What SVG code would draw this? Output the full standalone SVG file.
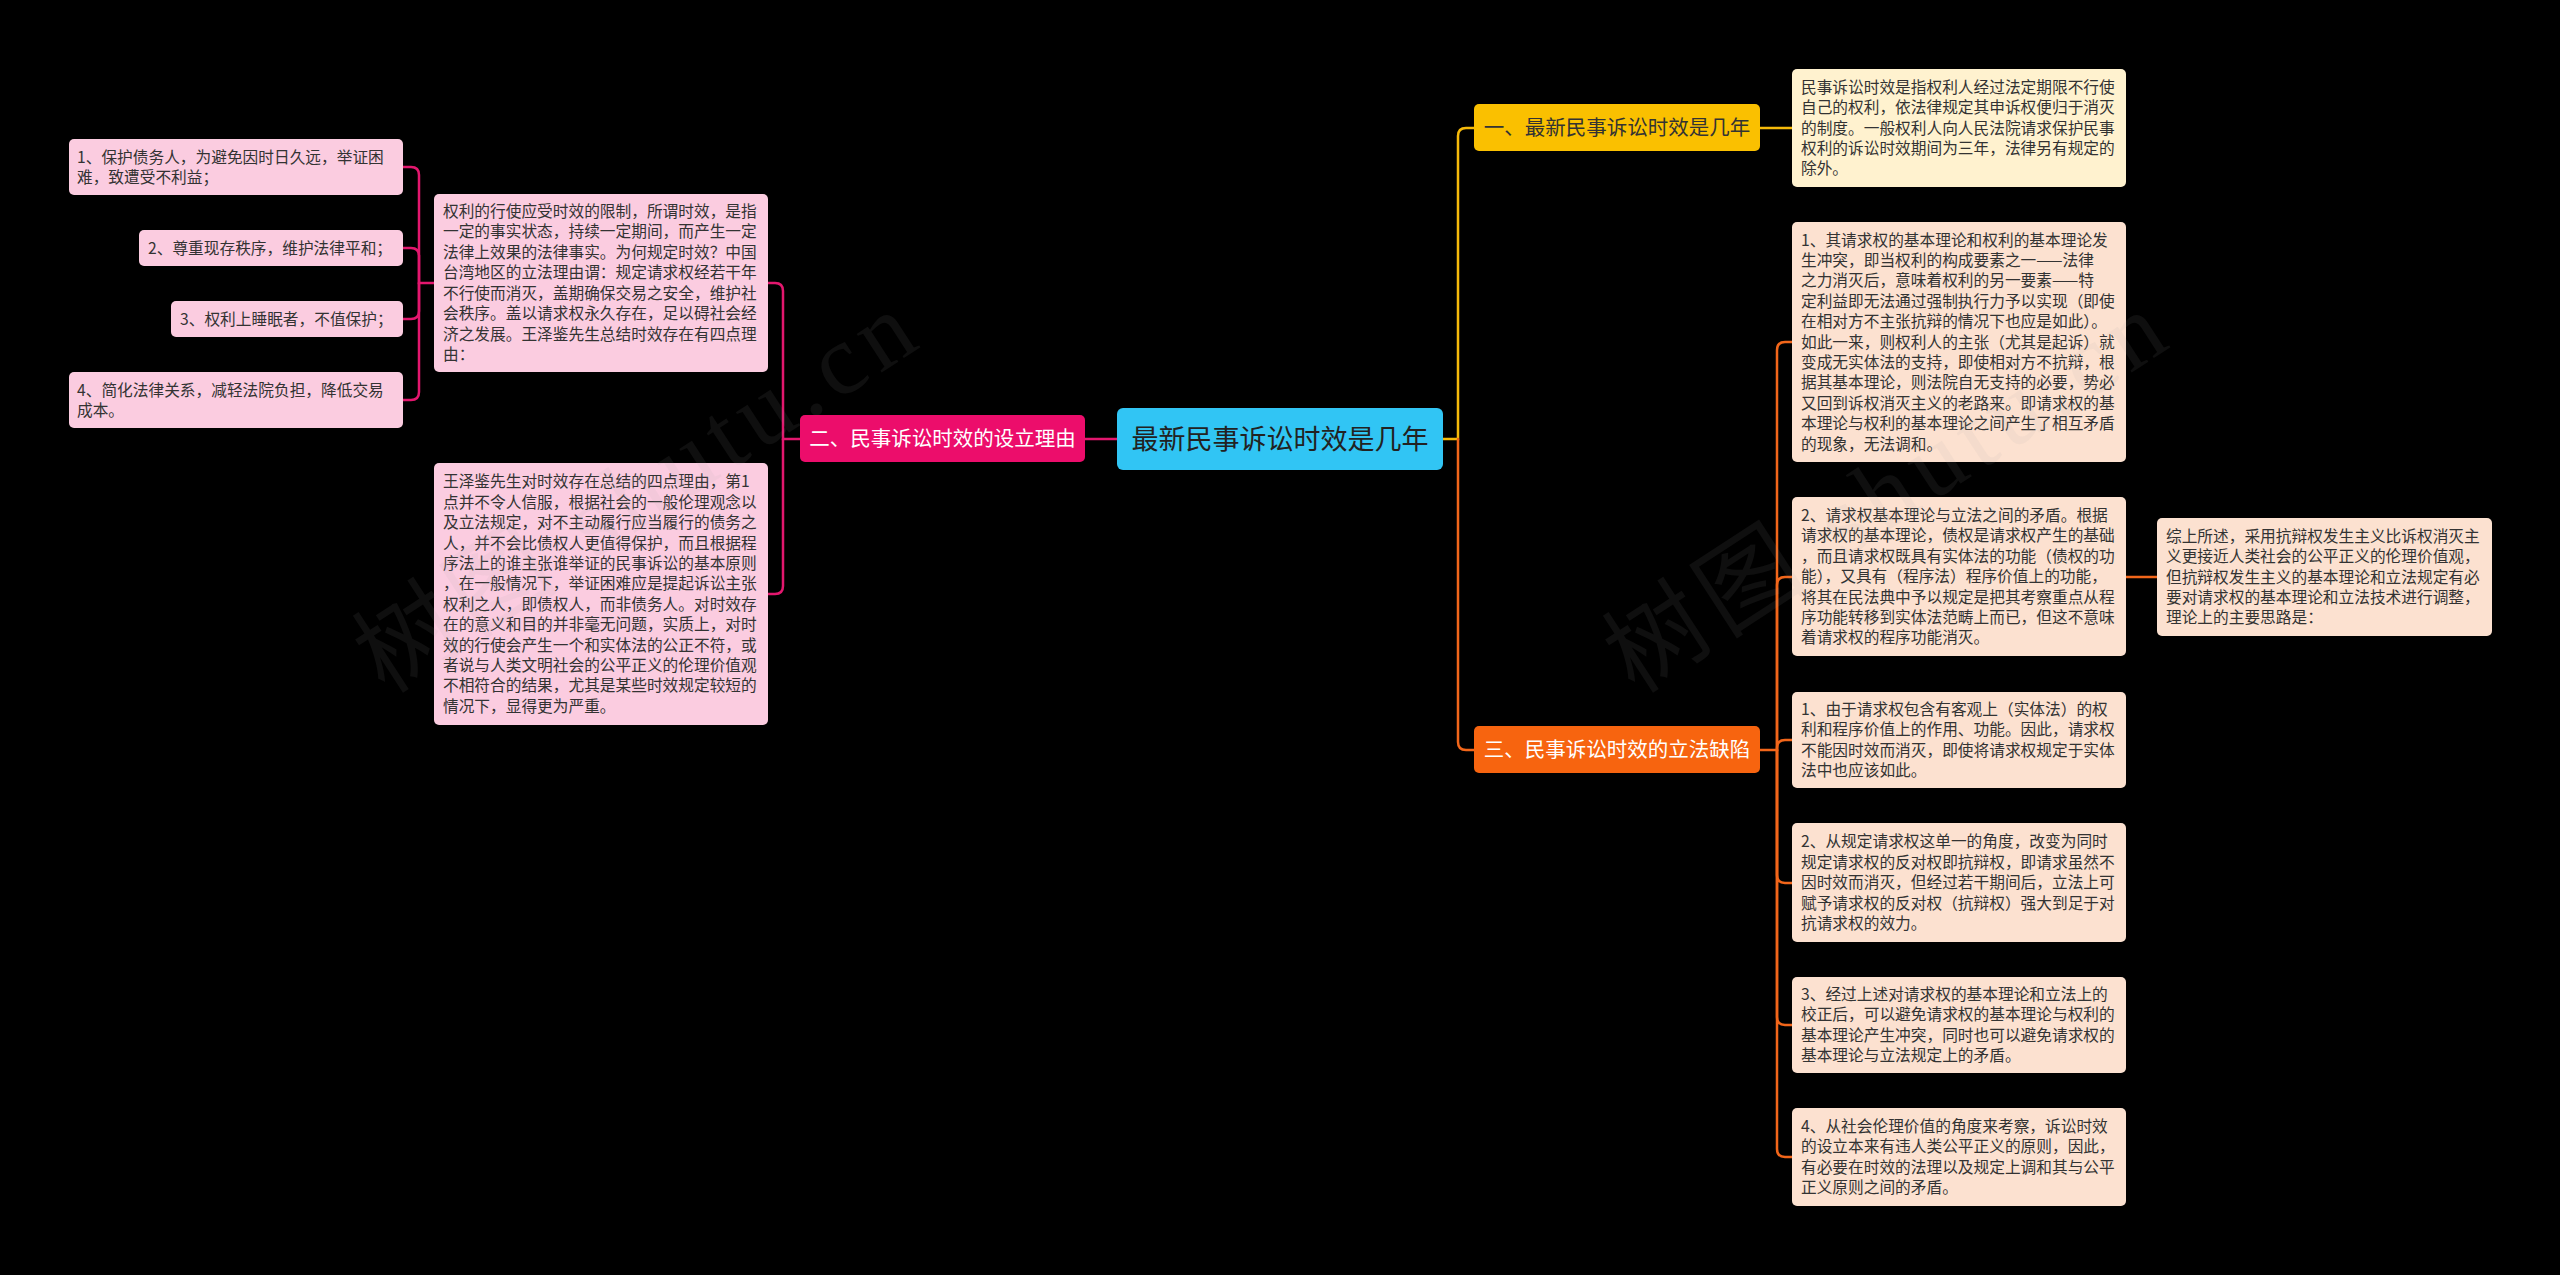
<svg xmlns="http://www.w3.org/2000/svg" width="2560" height="1275" viewBox="0 0 2560 1275">
<style>
text{font-family:"Noto Sans CJK SC","Noto Sans",sans-serif}
.t{font-size:15.7px;fill:#333333}
.br{font-size:20.5px;text-anchor:middle}
.pk{fill:#FBCCE0}
.yl{fill:#FFF2CF}
.or{fill:#FCE1D0}
.c{fill:none;stroke-width:2.5;stroke-linecap:round}
.cp{stroke:#E3176E}
.cy{stroke:#F6BA0A}
.co{stroke:#F2661A}
.wm{font-size:100px;fill:#aaaaaa;fill-opacity:0.09;font-family:"Liberation Serif","Noto Sans CJK SC",serif}
</style>
<rect x="0" y="0" width="2560" height="1275" fill="#000000"/>
<g id="connectors">
<path class="c cp" d="M1117,439 H1085"/>
<path class="c cp" d="M800,439 H783 V291 Q783,283 775,283 H768"/>
<path class="c cp" d="M783,439 V586 Q783,594 775,594 H768"/>
<path class="c cp" d="M434,283 H419 V175 Q419,167 411,167 H403"/>
<path class="c cp" d="M419,283 V256 Q419,248 411,248 H403"/>
<path class="c cp" d="M419,283 V311 Q419,319 411,319 H403"/>
<path class="c cp" d="M419,283 V392 Q419,400 411,400 H403"/>
<path class="c cy" d="M1443,439 H1458 V136 Q1458,128 1466,128 H1474"/>
<path class="c co" d="M1458,439 V742 Q1458,750 1466,750 H1474"/>
<path class="c cy" d="M1760,128 H1792"/>
<path class="c co" d="M1760,750 H1777 V350 Q1777,342 1785,342 H1792"/>
<path class="c co" d="M1777,750 V585 Q1777,577 1785,577 H1792"/>
<path class="c co" d="M1777,750 V748 Q1777,740 1785,740 H1792"/>
<path class="c co" d="M1777,750 V875 Q1777,883 1785,883 H1792"/>
<path class="c co" d="M1777,750 V1017 Q1777,1025 1785,1025 H1792"/>
<path class="c co" d="M1777,750 V1149 Q1777,1157 1785,1157 H1792"/>
<path class="c co" d="M2126,577 H2157"/>
</g>
<g id="root">
<rect x="1117" y="408" width="326" height="62" rx="6" fill="#31C5F4"/>
<text x="1280" y="449" style="font-size:27px;text-anchor:middle" fill="#222222">最新民事诉讼时效是几年</text>
</g>
<g id="b1">
<rect x="1474" y="104" width="286" height="47" rx="5" fill="#FAC000"/>
<text class="br" x="1617" y="135" fill="#333333">一、最新民事诉讼时效是几年</text>
</g>
<g id="b2">
<rect x="800" y="415" width="285" height="47" rx="5" fill="#EC0D6B"/>
<text class="br" x="942.5" y="446" fill="#ffffff">二、民事诉讼时效的设立理由</text>
</g>
<g id="b3">
<rect x="1474" y="726" width="286" height="47" rx="5" fill="#F7640F"/>
<text class="br" x="1617" y="757" fill="#ffffff">三、民事诉讼时效的立法缺陷</text>
</g>
<g id="l1">
<rect class="pk" x="69" y="139" width="334" height="56" rx="5"/>
<text class="t" x="77"><tspan x="77" y="162.6">1、保护债务人，为避免因时日久远，举证困</tspan><tspan x="77" y="182.6">难，致遭受不利益；</tspan></text>
</g>
<g id="l2">
<rect class="pk" x="139" y="230" width="264" height="36" rx="5"/>
<text class="t" x="148" y="253.6">2、尊重现存秩序，维护法律平和；</text>
</g>
<g id="l3">
<rect class="pk" x="171" y="301" width="232" height="36" rx="5"/>
<text class="t" x="180" y="324.6">3、权利上睡眠者，不值保护；</text>
</g>
<g id="l4">
<rect class="pk" x="69" y="372" width="334" height="56" rx="5"/>
<text class="t" x="77"><tspan x="77" y="395.6">4、简化法律关系，减轻法院负担，降低交易</tspan><tspan x="77" y="415.6">成本。</tspan></text>
</g>
<g id="mA">
<rect class="pk" x="434" y="194" width="334" height="178" rx="5"/>
<text class="t"><tspan x="443" y="216.9">权利的行使应受时效的限制，所谓时效，是指</tspan><tspan x="443" y="237.4">一定的事实状态，持续一定期间，而产生一定</tspan><tspan x="443" y="257.9">法律上效果的法律事实。为何规定时效？中国</tspan><tspan x="443" y="278.4">台湾地区的立法理由谓：规定请求权经若干年</tspan><tspan x="443" y="298.9">不行使而消灭，盖期确保交易之安全，维护社</tspan><tspan x="443" y="319.4">会秩序。盖以请求权永久存在，足以碍社会经</tspan><tspan x="443" y="339.9">济之发展。王泽鉴先生总结时效存在有四点理</tspan><tspan x="443" y="360.4">由：</tspan></text>
</g>
<g id="mB">
<rect class="pk" x="434" y="463" width="334" height="262" rx="5"/>
<text class="t"><tspan x="443" y="487.4">王泽鉴先生对时效存在总结的四点理由，第1</tspan><tspan x="443" y="507.8">点并不令人信服，根据社会的一般伦理观念以</tspan><tspan x="443" y="528.2">及立法规定，对不主动履行应当履行的债务之</tspan><tspan x="443" y="548.6">人，并不会比债权人更值得保护，而且根据程</tspan><tspan x="443" y="569.0">序法上的谁主张谁举证的民事诉讼的基本原则</tspan><tspan x="443" y="589.4">，在一般情况下，举证困难应是提起诉讼主张</tspan><tspan x="443" y="609.8">权利之人，即债权人，而非债务人。对时效存</tspan><tspan x="443" y="630.2">在的意义和目的并非毫无问题，实质上，对时</tspan><tspan x="443" y="650.6">效的行使会产生一个和实体法的公正不符，或</tspan><tspan x="443" y="671.0">者说与人类文明社会的公平正义的伦理价值观</tspan><tspan x="443" y="691.4">不相符合的结果，尤其是某些时效规定较短的</tspan><tspan x="443" y="711.8">情况下，显得更为严重。</tspan></text>
</g>
<g id="r0">
<rect class="yl" x="1792" y="69" width="334" height="118" rx="5"/>
<text class="t"><tspan x="1801" y="92.8">民事诉讼时效是指权利人经过法定期限不行使</tspan><tspan x="1801" y="113.2">自己的权利，依法律规定其申诉权便归于消灭</tspan><tspan x="1801" y="133.6">的制度。一般权利人向人民法院请求保护民事</tspan><tspan x="1801" y="154.0">权利的诉讼时效期间为三年，法律另有规定的</tspan><tspan x="1801" y="174.4">除外。</tspan></text>
</g>
<g id="r1">
<rect class="or" x="1792" y="222" width="334" height="240" rx="5"/>
<text class="t"><tspan x="1801" y="245.6">1、其请求权的基本理论和权利的基本理论发</tspan><tspan x="1801" y="266.0">生冲突，即当权利的构成要素之一——法律</tspan><tspan x="1801" y="286.4">之力消灭后，意味着权利的另一要素——特</tspan><tspan x="1801" y="306.8">定利益即无法通过强制执行力予以实现（即使</tspan><tspan x="1801" y="327.2">在相对方不主张抗辩的情况下也应是如此）。</tspan><tspan x="1801" y="347.6">如此一来，则权利人的主张（尤其是起诉）就</tspan><tspan x="1801" y="368.0">变成无实体法的支持，即使相对方不抗辩，根</tspan><tspan x="1801" y="388.4">据其基本理论，则法院自无支持的必要，势必</tspan><tspan x="1801" y="408.8">又回到诉权消灭主义的老路来。即请求权的基</tspan><tspan x="1801" y="429.2">本理论与权利的基本理论之间产生了相互矛盾</tspan><tspan x="1801" y="449.6">的现象，无法调和。</tspan></text>
</g>
<g id="r2">
<rect class="or" x="1792" y="497" width="334" height="159" rx="5"/>
<text class="t"><tspan x="1801" y="520.9">2、请求权基本理论与立法之间的矛盾。根据</tspan><tspan x="1801" y="541.3">请求权的基本理论，债权是请求权产生的基础</tspan><tspan x="1801" y="561.7">，而且请求权既具有实体法的功能（债权的功</tspan><tspan x="1801" y="582.1">能），又具有（程序法）程序价值上的功能，</tspan><tspan x="1801" y="602.5">将其在民法典中予以规定是把其考察重点从程</tspan><tspan x="1801" y="622.9">序功能转移到实体法范畴上而已，但这不意味</tspan><tspan x="1801" y="643.3">着请求权的程序功能消灭。</tspan></text>
</g>
<g id="r2a">
<rect class="or" x="2157" y="518" width="335" height="118" rx="5"/>
<text class="t"><tspan x="2166" y="541.8">综上所述，采用抗辩权发生主义比诉权消灭主</tspan><tspan x="2166" y="562.2">义更接近人类社会的公平正义的伦理价值观，</tspan><tspan x="2166" y="582.6">但抗辩权发生主义的基本理论和立法规定有必</tspan><tspan x="2166" y="603.0">要对请求权的基本理论和立法技术进行调整，</tspan><tspan x="2166" y="623.4">理论上的主要思路是：</tspan></text>
</g>
<g id="r3">
<rect class="or" x="1792" y="692" width="334" height="96" rx="5"/>
<text class="t"><tspan x="1801" y="715.0">1、由于请求权包含有客观上（实体法）的权</tspan><tspan x="1801" y="735.4">利和程序价值上的作用、功能。因此，请求权</tspan><tspan x="1801" y="755.8">不能因时效而消灭，即使将请求权规定于实体</tspan><tspan x="1801" y="776.2">法中也应该如此。</tspan></text>
</g>
<g id="r4">
<rect class="or" x="1792" y="823" width="334" height="119" rx="5"/>
<text class="t"><tspan x="1801" y="847.3">2、从规定请求权这单一的角度，改变为同时</tspan><tspan x="1801" y="867.7">规定请求权的反对权即抗辩权，即请求虽然不</tspan><tspan x="1801" y="888.1">因时效而消灭，但经过若干期间后，立法上可</tspan><tspan x="1801" y="908.5">赋予请求权的反对权（抗辩权）强大到足于对</tspan><tspan x="1801" y="928.9">抗请求权的效力。</tspan></text>
</g>
<g id="r5">
<rect class="or" x="1792" y="977" width="334" height="96" rx="5"/>
<text class="t"><tspan x="1801" y="1000.0">3、经过上述对请求权的基本理论和立法上的</tspan><tspan x="1801" y="1020.4">校正后，可以避免请求权的基本理论与权利的</tspan><tspan x="1801" y="1040.8">基本理论产生冲突，同时也可以避免请求权的</tspan><tspan x="1801" y="1061.2">基本理论与立法规定上的矛盾。</tspan></text>
</g>
<g id="r6">
<rect class="or" x="1792" y="1108" width="334" height="98" rx="5"/>
<text class="t"><tspan x="1801" y="1132.0">4、从社会伦理价值的角度来考察，诉讼时效</tspan><tspan x="1801" y="1152.4">的设立本来有违人类公平正义的原则，因此，</tspan><tspan x="1801" y="1172.8">有必要在时效的法理以及规定上调和其与公平</tspan><tspan x="1801" y="1193.2">正义原则之间的矛盾。</tspan></text>
</g>
<g id="watermark">
<text class="wm" transform="translate(385,695) rotate(-33)" textLength="640" lengthAdjust="spacing">树图 shutu.cn</text>
<text class="wm" transform="translate(1635,695) rotate(-33)" textLength="640" lengthAdjust="spacing">树图 shutu.cn</text>
</g>
</svg>
